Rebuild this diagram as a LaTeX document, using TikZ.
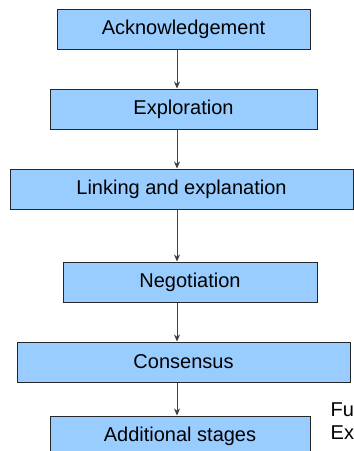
\documentclass[tikz,border=0pt]{standalone}
\usepackage{fontspec}
\setmainfont{Liberation Sans}
\usetikzlibrary{positioning,arrows.meta}
\definecolor{boxblue}{RGB}{153,204,255}

\begin{document}
\begin{tikzpicture}[x=1pt, y=-1pt, >={Stealth[length=7pt,width=6pt]},
  stage/.style={draw=black!85, fill=boxblue, line width=1pt, minimum height=40pt,
    inner sep=0pt, font=\fontsize{20pt}{24pt}\selectfont}]
  \useasboundingbox (0,0) rectangle (354,451);
  \node[stage, minimum width=253pt] (ack) at (183.5,29) {Acknowledgement};
  \node[stage, minimum width=267pt] (expl) at (183.5,109) {Exploration};
  \node[stage, minimum width=343pt] (link) at (181.5,189) {Linking and explanation};
  \node[stage, minimum width=254pt] (neg) at (190,282) {Negotiation};
  \node[stage, minimum width=333pt] (cons) at (183.5,362) {Consensus};
  \node[stage, minimum width=260pt] (add) at (180,436) {Additional stages};
  \node[anchor=west, inner sep=0pt, align=left,
    font=\fontsize{20pt}{23pt}\selectfont] (more) at (330.5,421.5) {Fu\\Ex};
  \coordinate (ax) at (177,0);
  \foreach \a/\b in {ack/expl, expl/link, link/neg, neg/cons, cons/add}
    \draw[->, draw=black!75, line width=0.8pt] (\a.south -| ax) -- (\b.north -| ax);
\end{tikzpicture}
\end{document}
